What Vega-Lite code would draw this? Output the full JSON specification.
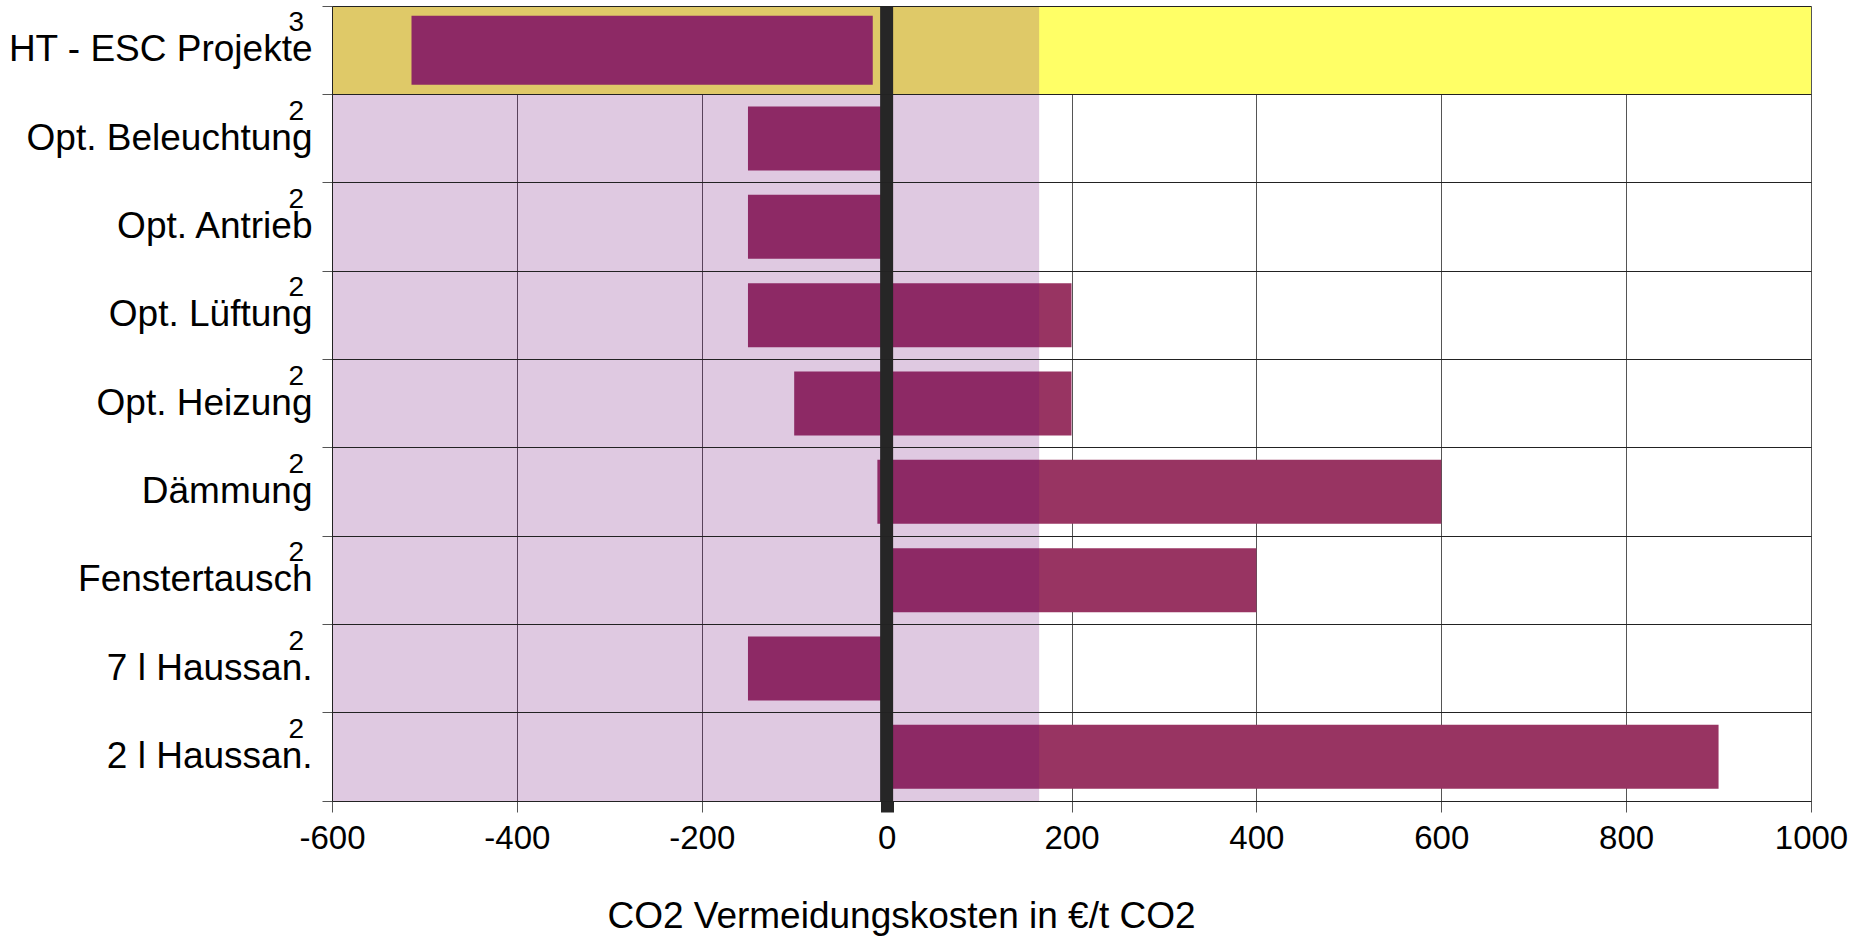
{
  "$schema": "https://vega.github.io/schema/vega-lite/v6.json",
  "autosize": {"type": "none"},
  "padding": {"left": 332, "top": 6, "right": 45, "bottom": 136},
  "width": 1479,
  "height": 795,
  "background": "white",
  "config": {
    "font": "Liberation Sans",
    "view": {"stroke": null},
    "axis": {"labelFont": "Liberation Sans", "titleFont": "Liberation Sans", "labelColor": "#000", "titleColor": "#000", "titleFontWeight": "normal"}
  },
  "data": {
    "values": [
      {"massnahme": "HT - ESC Projekte", "von": -514, "bis": -15, "nr": "3", "gruppe": "ESC"},
      {"massnahme": "Opt. Beleuchtung", "von": -150, "bis": 0, "nr": "2", "gruppe": "Massnahme"},
      {"massnahme": "Opt. Antrieb", "von": -150, "bis": 0, "nr": "2", "gruppe": "Massnahme"},
      {"massnahme": "Opt. Lüftung", "von": -150, "bis": 200, "nr": "2", "gruppe": "Massnahme"},
      {"massnahme": "Opt. Heizung", "von": -100, "bis": 200, "nr": "2", "gruppe": "Massnahme"},
      {"massnahme": "Dämmung", "von": -10, "bis": 600, "nr": "2", "gruppe": "Massnahme"},
      {"massnahme": "Fenstertausch", "von": 0, "bis": 400, "nr": "2", "gruppe": "Massnahme"},
      {"massnahme": "7 l Haussan.", "von": -150, "bis": 0, "nr": "2", "gruppe": "Massnahme"},
      {"massnahme": "2 l Haussan.", "von": 0, "bis": 900, "nr": "2", "gruppe": "Massnahme"}
    ]
  },
  "encoding": {
    "y": {
      "field": "massnahme",
      "type": "nominal",
      "sort": null,
      "scale": {"paddingInner": 0, "paddingOuter": 0},
      "axis": {
        "title": null,
        "bandPosition": 1,
        "tickExtra": true,
        "grid": true,
        "gridColor": "#222",
        "gridWidth": 1,
        "tickColor": "#555",
        "tickSize": 10,
        "domainColor": "#222",
        "labelFontSize": 37,
        "labelPadding": 10,
        "labelLimit": 400
      }
    }
  },
  "layer": [
    {
      "transform": [{"filter": "datum.gruppe === 'ESC'"}],
      "mark": {"type": "rect", "color": "#FFFF66"},
      "encoding": {
        "x": {"datum": -600, "type": "quantitative"},
        "x2": {"datum": 1000}
      }
    },
    {
      "mark": {"type": "bar", "color": "#983462"},
      "encoding": {
        "x": {
          "field": "von",
          "type": "quantitative",
          "scale": {"domain": [-600, 1000], "nice": false},
          "axis": {
            "title": "CO2 Vermeidungskosten in €/t CO2",
            "values": [-600, -400, -200, 0, 200, 400, 600, 800, 1000],
            "labelExpr": "'' + datum.value",
            "grid": true,
            "gridColor": "#555",
            "gridWidth": 1,
            "tickColor": {"condition": {"test": "datum.value === 0", "value": "#262626"}, "value": "#555"},
            "tickWidth": {"condition": {"test": "datum.value === 0", "value": 13}, "value": 1},
            "tickSize": 11,
            "domainColor": "#222",
            "labelFontSize": 33,
            "labelPadding": 10,
            "labelFlush": false,
            "titleFontSize": 37,
            "titlePadding": 43,
            "titleX": 569,
            "titleAnchor": "start",
            "titleAlign": "center"
          }
        },
        "x2": {"field": "bis"},
        "size": {
          "field": "gruppe",
          "type": "nominal",
          "scale": {"domain": ["ESC", "Massnahme"], "range": [69, 64]},
          "legend": null
        }
      }
    },
    {
      "data": {"values": [{"bereich": "wirtschaftlich"}]},
      "mark": {"type": "rect", "color": "#69006F", "opacity": 0.21},
      "encoding": {
        "y": null,
        "x": {"datum": -600, "type": "quantitative"},
        "x2": {"datum": 165}
      }
    },
    {
      "data": {"values": [{"linie": "null"}]},
      "mark": {"type": "rule", "color": "#262626", "strokeWidth": 13},
      "encoding": {
        "y": null,
        "x": {"datum": 0, "type": "quantitative"}
      }
    },
    {
      "mark": {"type": "text", "align": "right", "baseline": "middle", "dx": -28, "dy": -27, "fontSize": 28, "color": "#000"},
      "encoding": {
        "x": {"datum": -600, "type": "quantitative"},
        "text": {"field": "nr"}
      }
    }
  ]
}
